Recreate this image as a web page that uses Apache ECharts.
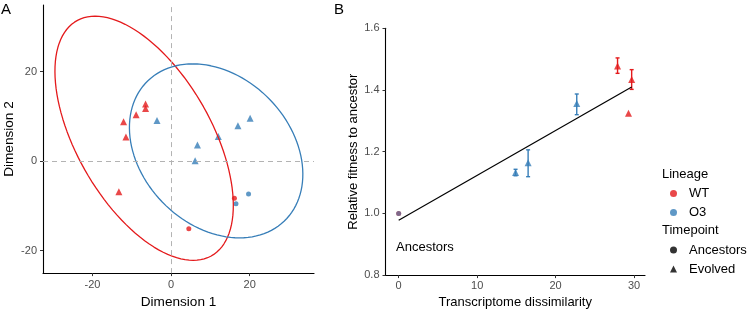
<!DOCTYPE html>
<html>
<head>
<meta charset="utf-8">
<script src="https://cdn.jsdelivr.net/npm/echarts@6/dist/echarts.min.js"></script>
<style>
  html, body { margin: 0; padding: 0; background: #fff; }
  #chart { width: 750px; height: 314px; }
</style>
</head>
<body>
<div id="chart"></div>
<script>
// panel A - MDS coordinates
var aEvoWT = [[-6.5, 12.8], [-6.5, 11.8], [-8.9, 10.4], [-12.1, 8.8], [-11.5, 5.4], [-13.3, -6.8]];
var aAncWT = [[16.1, -8.3], [4.5, -15.1]];
var aEvoO3 = [[-3.6, 9.1], [6.7, 3.6], [6.1, 0.1], [12.0, 5.5], [17.0, 7.9], [20.1, 9.6]];
var aAncO3 = [[19.7, -7.3], [16.5, -9.5]];
// ellipse: centre, two conjugate half diameters
var ellWT = {c: [-6.87, 5.12], a: [-12.47, 27.28], b: [18.96, 0]};
var ellO3 = {c: [11.45, 2.31], a: [-5.93, 19.44], b: [21.25, 0]};
var aTicks = [-20, 0, 20];

// panel B - fitness vs dissimilarity
var bAncWT = [[0, 1.0]];
var bAncO3 = [[0, 1.0]];
var bEvoWT = [[27.9, 1.478], [29.7, 1.434], [29.3, 1.325]];
var bEvoO3 = [[14.9, 1.1325], [16.5, 1.164], [22.7, 1.356]];
var errWT = [[27.9, 1.454, 1.504], [29.7, 1.402, 1.466]];
var errO3 = [[14.9, 1.122, 1.143], [16.5, 1.119, 1.206], [22.7, 1.32, 1.387]];
var fitLine = [[0, 0.978], [29.7, 1.41]];
var bxTicks = [0, 10, 20, 30];

var RED = '#E41A1C', BLUE = '#377EB8';
var FONT = "'Liberation Sans', Arial, sans-serif";

function ellipsePts(e) {
  var pts = [];
  for (var i = 0; i <= 120; i++) {
    var t = i / 120 * Math.PI * 2;
    pts.push([e.c[0] + e.a[0] * Math.cos(t) + e.b[0] * Math.sin(t),
              e.c[1] + e.a[1] * Math.cos(t) + e.b[1] * Math.sin(t)]);
  }
  return pts;
}

function errRender(color) {
  return function (params, api) {
    var x = api.value(0);
    var top = api.coord([x, api.value(2)]);
    var bot = api.coord([x, api.value(1)]);
    var st = {stroke: color, lineWidth: 1.4};
    return {
      type: 'group',
      children: [
        {type: 'line', shape: {x1: top[0], y1: top[1], x2: bot[0], y2: bot[1]}, style: st},
        {type: 'line', shape: {x1: top[0] - 2, y1: top[1], x2: top[0] + 2, y2: top[1]}, style: st},
        {type: 'line', shape: {x1: bot[0] - 2, y1: bot[1], x2: bot[0] + 2, y2: bot[1]}, style: st}
      ]
    };
  };
}

function baseAxis(extra) {
  var ax = {
    type: 'value',
    splitLine: {show: false},
    axisLine: {show: true, onZero: false, lineStyle: {color: '#000', width: 1.1}},
    axisTick: {show: true, length: 3, lineStyle: {color: '#333'}},
    axisLabel: {color: '#4d4d4d', fontSize: 11, fontFamily: FONT, margin: 6},
    nameLocation: 'middle',
    nameTextStyle: {color: '#000', fontSize: 13, fontFamily: FONT}
  };
  for (var k in extra) ax[k] = extra[k];
  return ax;
}

var nameA = {color: '#000', fontSize: 13.6, fontFamily: FONT};

var chart = echarts.init(document.getElementById('chart'));

var option = {
  animation: false,
  textStyle: {fontFamily: FONT},
  grid: [
    {left: 43, top: 5, width: 271, height: 278},
    {left: 385.5, top: 28.3, width: 259.5, height: 251.7}
  ],
  xAxis: [
    baseAxis({gridIndex: 0, min: -32.6, max: 36.35, name: 'Dimension 1', nameGap: 18, nameTextStyle: nameA,
      axisTick: {show: true, length: 3, customValues: aTicks, lineStyle: {color: '#333'}},
      axisLabel: {color: '#4d4d4d', fontSize: 11, fontFamily: FONT, margin: 6, customValues: aTicks}}),
    baseAxis({gridIndex: 1, min: -1.68, max: 31.4, name: 'Transcriptome dissimilarity', nameGap: 18,
      axisTick: {show: true, length: 3, customValues: bxTicks, lineStyle: {color: '#333'}},
      axisLabel: {color: '#4d4d4d', fontSize: 11, fontFamily: FONT, margin: 5, customValues: bxTicks}})
  ],
  yAxis: [
    baseAxis({gridIndex: 0, min: -25, max: 34.9, name: 'Dimension 2', nameGap: 27, nameTextStyle: nameA,
      axisTick: {show: true, length: 3, customValues: aTicks, lineStyle: {color: '#333'}},
      axisLabel: {color: '#4d4d4d', fontSize: 11, fontFamily: FONT, margin: 6, customValues: aTicks}}),
    baseAxis({gridIndex: 1, min: 0.8, max: 1.6, interval: 0.2, name: 'Relative fitness to ancestor', nameGap: 22,
      axisLabel: {color: '#4d4d4d', fontSize: 11, fontFamily: FONT, margin: 6,
        formatter: function (v) { return v.toFixed(1); }}})
  ],
  legend: [
    {left: 670, top: 186, padding: 0, orient: 'vertical', itemWidth: 7, itemHeight: 7, itemGap: 4,
      textStyle: {fontSize: 13, color: '#000', lineHeight: 15, padding: [0, 0, 0, 7]},
      selectedMode: false,
      data: [{name: 'WT', icon: 'circle'}, {name: 'O3', icon: 'circle'}]},
    {left: 670, top: 242.5, padding: 0, orient: 'vertical', itemWidth: 7, itemHeight: 7, itemGap: 4,
      textStyle: {fontSize: 13, color: '#000', lineHeight: 15, padding: [0, 0, 0, 7]},
      selectedMode: false,
      data: [{name: 'Ancestors', icon: 'circle'}, {name: 'Evolved', icon: 'triangle'}]}
  ],
  graphic: [
    {type: 'text', left: 1, top: 2, style: {text: 'A', fontSize: 15, fill: '#000', fontFamily: FONT}},
    {type: 'text', left: 334, top: 2, style: {text: 'B', fontSize: 15, fill: '#000', fontFamily: FONT}},
    {type: 'text', left: 396, top: 241, style: {text: 'Ancestors', fontSize: 13, fill: '#000', fontFamily: FONT}},
    {type: 'text', left: 662, top: 168, style: {text: 'Lineage', fontSize: 13, fill: '#000', fontFamily: FONT}},
    {type: 'text', left: 662, top: 224, style: {text: 'Timepoint', fontSize: 13, fill: '#000', fontFamily: FONT}}
  ],
  series: [
    // reference lines at 0
    {type: 'line', xAxisIndex: 0, yAxisIndex: 0, data: [], silent: true,
      markLine: {symbol: 'none', silent: true, label: {show: false},
        lineStyle: {color: '#b3b3b3', type: [5, 4], width: 1},
        data: [{xAxis: 0}, {yAxis: 0}]}},
    {type: 'line', xAxisIndex: 0, yAxisIndex: 0, data: ellipsePts(ellWT), showSymbol: false,
      lineStyle: {color: RED, width: 1.3}, silent: true},
    {type: 'line', xAxisIndex: 0, yAxisIndex: 0, data: ellipsePts(ellO3), showSymbol: false,
      lineStyle: {color: BLUE, width: 1.3}, silent: true},
    {type: 'scatter', xAxisIndex: 0, yAxisIndex: 0, data: aEvoWT, symbol: 'triangle', symbolSize: 7, itemStyle: {color: RED}},
    {type: 'scatter', xAxisIndex: 0, yAxisIndex: 0, data: aAncWT, symbol: 'circle', symbolSize: 5, itemStyle: {color: RED}},
    {type: 'scatter', xAxisIndex: 0, yAxisIndex: 0, data: aEvoO3, symbol: 'triangle', symbolSize: 7, itemStyle: {color: BLUE}},
    {type: 'scatter', xAxisIndex: 0, yAxisIndex: 0, data: aAncO3, symbol: 'circle', symbolSize: 5, itemStyle: {color: BLUE}},

    // panel B
    {type: 'line', xAxisIndex: 1, yAxisIndex: 1, data: fitLine, showSymbol: false,
      lineStyle: {color: '#000', width: 1.2}, silent: true},
    {type: 'custom', xAxisIndex: 1, yAxisIndex: 1, data: errWT, renderItem: errRender(RED), encode: {x: 0, y: [1, 2]}},
    {type: 'custom', xAxisIndex: 1, yAxisIndex: 1, data: errO3, renderItem: errRender(BLUE), encode: {x: 0, y: [1, 2]}},
    {type: 'scatter', xAxisIndex: 1, yAxisIndex: 1, data: bAncWT, symbol: 'circle', symbolSize: 5, itemStyle: {color: RED}},
    {type: 'scatter', xAxisIndex: 1, yAxisIndex: 1, data: bAncO3, symbol: 'circle', symbolSize: 5, itemStyle: {color: BLUE, opacity: 0.6}},
    {type: 'scatter', xAxisIndex: 1, yAxisIndex: 1, data: bEvoWT, symbol: 'triangle', symbolSize: 7, itemStyle: {color: RED}},
    {type: 'scatter', xAxisIndex: 1, yAxisIndex: 1, data: bEvoO3, symbol: 'triangle', symbolSize: 7, itemStyle: {color: BLUE}},

    // legend keys only
    {type: 'scatter', name: 'WT', data: [], itemStyle: {color: RED}},
    {type: 'scatter', name: 'O3', data: [], itemStyle: {color: BLUE}},
    {type: 'scatter', name: 'Ancestors', data: [], itemStyle: {color: '#000'}},
    {type: 'scatter', name: 'Evolved', data: [], symbol: 'triangle', itemStyle: {color: '#000'}}
  ]
};

chart.setOption(option);
</script>
</body>
</html>
